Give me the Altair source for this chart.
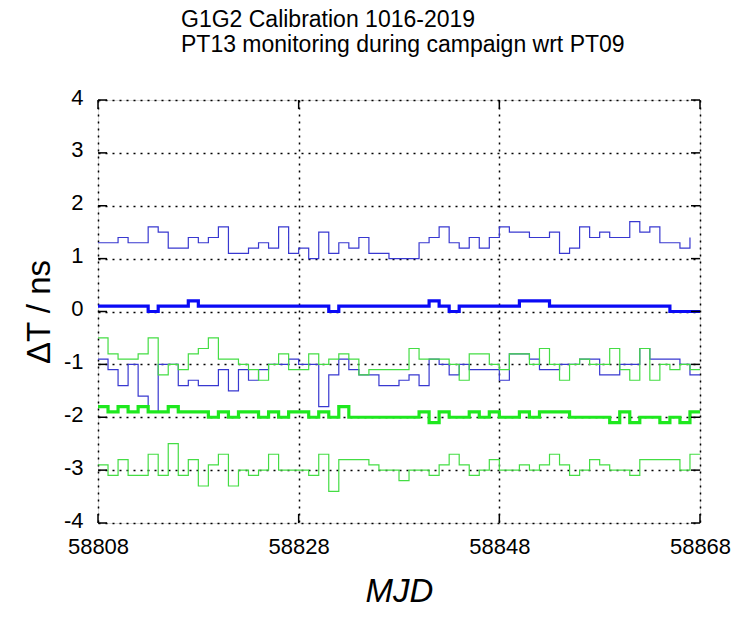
import altair as alt
import pandas as pd

MJD0 = 58808
blue_upper = [1.3, 1.3, 1.4, 1.3, 1.3, 1.6, 1.5, 1.2, 1.2, 1.4, 1.3, 1.4, 1.6, 1.1, 1.1, 1.2, 1.3, 1.2, 1.6, 1.1,
              1.2, 1.0, 1.5, 1.1, 1.3, 1.2, 1.4, 1.1, 1.1, 1.0, 1.0, 1.0, 1.3, 1.4, 1.6, 1.3, 1.2, 1.4, 1.2, 1.4,
              1.6, 1.5, 1.5, 1.4, 1.4, 1.5, 1.1, 1.2, 1.6, 1.4, 1.5, 1.4, 1.4, 1.7, 1.5, 1.6, 1.3, 1.3, 1.2, 1.4]
blue_thick = [0.1, 0.1, 0.1, 0.1, 0.1, 0.0, 0.1, 0.1, 0.1, 0.2, 0.1, 0.1, 0.1, 0.1, 0.1, 0.1, 0.1, 0.1, 0.1, 0.1,
              0.1, 0.1, 0.1, 0.0, 0.1, 0.1, 0.1, 0.1, 0.1, 0.1, 0.1, 0.1, 0.1, 0.2, 0.1, 0.0, 0.1, 0.1, 0.1, 0.1,
              0.1, 0.1, 0.2, 0.2, 0.2, 0.1, 0.1, 0.1, 0.1, 0.1, 0.1, 0.1, 0.1, 0.1, 0.1, 0.1, 0.1, 0.0, 0.0, 0.0, 0.0]
blue_lower = [-0.9, -1.1, -1.4, -1.0, -1.6, -1.9, -1.0, -1.0, -1.4, -1.3, -1.4, -1.4, -1.1, -1.5, -1.1, -1.3, -1.1,
              -1.0, -1.0, -0.9, -1.0, -1.0, -1.8, -1.2, -0.9, -1.1, -1.2, -1.2, -1.4, -1.4, -1.3, -1.2, -1.4, -0.9,
              -1.0, -1.2, -1.0, -1.1, -1.1, -1.1, -1.3, -0.8, -0.8, -0.9, -1.1, -1.1, -1.0, -1.0, -0.9, -0.9, -1.2,
              -1.2, -1.0, -1.0, -0.7, -0.9, -0.9, -0.9, -1.0, -1.2, -1.2]
green_upper = [-0.5, -0.8, -0.9, -0.9, -0.8, -0.5, -1.2, -1.0, -1.1, -0.8, -0.7, -0.5, -0.9, -0.9, -1.0, -1.1, -1.3,
               -1.0, -0.8, -1.1, -1.1, -0.8, -1.0, -0.9, -0.8, -0.9, -1.2, -1.1, -1.1, -1.1, -1.1, -0.7, -0.9, -0.9,
               -0.9, -1.0, -1.3, -0.8, -0.8, -1.0, -1.1, -0.8, -0.8, -1.0, -0.7, -1.0, -1.3, -1.0, -0.9, -1.0, -1.0,
               -0.7, -1.1, -1.3, -0.7, -1.3, -1.0, -1.1, -1.0, -1.1, -1.1]
green_thick = [-1.8, -1.9, -1.8, -1.9, -1.8, -1.9, -1.9, -1.8, -1.9, -1.9, -1.9, -2.0, -1.9, -2.0, -1.9, -1.9, -2.0,
               -1.9, -2.0, -1.9, -1.9, -2.0, -1.9, -2.0, -1.8, -2.0, -2.0, -2.0, -2.0, -2.0, -2.0, -2.0, -1.9, -2.1,
               -1.9, -2.0, -2.0, -1.9, -2.0, -1.9, -2.0, -2.0, -1.9, -2.0, -1.9, -1.9, -1.9, -2.0, -2.0, -2.0, -2.0,
               -2.1, -1.9, -2.1, -2.0, -2.0, -2.1, -2.0, -2.1, -1.9, -1.9]
green_lower = [-2.9, -3.1, -2.8, -3.1, -3.1, -2.7, -3.1, -2.5, -3.1, -2.8, -3.3, -2.9, -2.7, -3.3, -3.0, -3.1, -3.0,
               -2.7, -3.0, -3.0, -3.0, -3.1, -2.7, -3.4, -2.8, -2.8, -2.8, -2.9, -3.0, -3.0, -3.2, -3.0, -3.0, -3.1,
               -2.9, -2.7, -2.9, -3.1, -3.0, -2.8, -3.0, -3.0, -2.9, -3.0, -2.9, -2.7, -2.9, -3.1, -3.0, -2.8, -2.9,
               -3.0, -3.0, -3.1, -2.8, -2.8, -2.8, -2.8, -3.0, -2.7, -2.7]

title_line1 = "G1G2 Calibration 1016-2019"
title_line2 = "PT13 monitoring during campaign wrt PT09"

series = {
    "blue_upper": blue_upper, "blue_thick": blue_thick, "blue_lower": blue_lower,
    "green_upper": green_upper, "green_thick": green_thick, "green_lower": green_lower,
}
colors = ["#3838d0", "#0a0af5", "#3838d0", "#44dd44", "#1ee81e", "#44dd44"]
widths = [1.2, 3.2, 1.2, 1.2, 3.2, 1.2]

rows = []
for name, vals in series.items():
    for i, v in enumerate(vals):
        rows.append({"series": name, "mjd": MJD0 + i, "dt": v})
df = pd.DataFrame(rows)

y_ticks = [-4, -3, -2, -1, 0, 1, 2, 3, 4]
x_ticks = [58808, 58828, 58848, 58868]
W, H = 602, 423
FONT = "Liberation Sans"

xs = alt.Scale(domain=[58808, 58868], nice=False, zero=False)
ys = alt.Scale(domain=[-4, 4], nice=False, zero=False)

xaxis = alt.Axis(values=x_ticks, labelExpr="'' + datum.value", ticks=False, domain=False, grid=True,
                 gridColor="black", gridDash=[2, 5], gridWidth=1.5, gridOpacity=1,
                 labelFontSize=22, labelPadding=13, labelColor="black", labelFont=FONT,
                 labelFlush=False, labelOverlap=False,
                 title="MJD", titleFontSize=33, titleFontStyle="italic", titleFontWeight="normal",
                 titleFont=FONT, titlePadding=18, titleColor="black")
yaxis = alt.Axis(values=y_ticks, labelExpr="'' + datum.value", ticks=False, domain=False, grid=True,
                 gridColor="black", gridDash=[2, 5], gridWidth=1.5, gridOpacity=1,
                 labelFontSize=22, labelPadding=15, labelOffset=-3, labelColor="black", labelFont=FONT,
                 labelFlush=False, labelOverlap=False,
                 title="ΔT / ns", titleFontSize=33, titleFontWeight="normal", titleFont=FONT,
                 titlePadding=7, titleColor="black")

lines = alt.Chart(df).mark_line(interpolate="step-after").encode(
    x=alt.X("mjd:Q", scale=xs, axis=xaxis),
    y=alt.Y("dt:Q", scale=ys, axis=yaxis),
    detail="series:N",
    color=alt.Color("series:N", scale=alt.Scale(domain=list(series.keys()), range=colors), legend=None),
    strokeWidth=alt.StrokeWidth("series:N", scale=alt.Scale(type="ordinal", domain=list(series.keys()), range=widths), legend=None),
)

ydf = pd.DataFrame({"v": y_ticks})
xdf = pd.DataFrame({"v": x_ticks})
tick_style = dict(color="black", strokeWidth=1.5)
yt_left = alt.Chart(ydf).mark_rule(**tick_style).encode(y=alt.Y("v:Q", scale=ys), x=alt.value(0), x2=alt.value(9))
yt_right = alt.Chart(ydf).mark_rule(**tick_style).encode(y=alt.Y("v:Q", scale=ys), x=alt.value(W - 9), x2=alt.value(W))
xt_bot = alt.Chart(xdf).mark_rule(**tick_style).encode(x=alt.X("v:Q", scale=xs), y=alt.value(H - 9), y2=alt.value(H))
xt_top = alt.Chart(xdf).mark_rule(**tick_style).encode(x=alt.X("v:Q", scale=xs), y=alt.value(0), y2=alt.value(9))

def title_text(txt, ypix):
    return alt.Chart(pd.DataFrame({"t": [txt]})).mark_text(
        align="left", baseline="alphabetic", fontSize=23, font=FONT, color="black"
    ).encode(text="t:N", x=alt.value(83), y=alt.value(ypix))

t1 = title_text(title_line1, -73)
t2 = title_text(title_line2, -48)

chart = alt.layer(lines, yt_left, yt_right, xt_bot, xt_top, t1, t2).properties(
    width=W, height=H,
    autosize=alt.AutoSizeParams(type="none"),
    padding={"left": 98, "top": 100, "right": 35, "bottom": 100},
).configure_view(stroke="black", strokeWidth=1.5).configure(background="white")

chart.save("out.html", embed_options={"renderer": "svg", "actions": False})
